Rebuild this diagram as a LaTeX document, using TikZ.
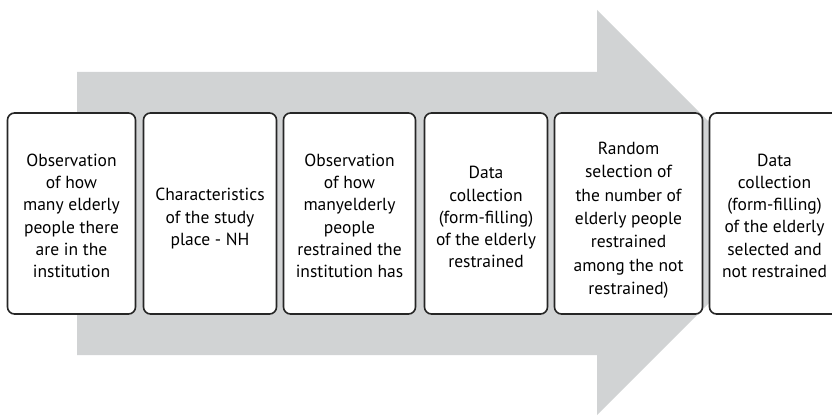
\documentclass[tikz,border=0pt]{standalone}
\usepackage{fontspec}
\setmainfont{PT Sans}
\usepackage{tikz}
\usetikzlibrary{positioning}

\definecolor{ArrowGray}{RGB}{209,211,212}

% step text: lowered block, reported with no height so the box stays put
\newcommand{\steptext}[3]{\raisebox{#1}[0pt][0pt]{\parbox[c]{#2}{\centering #3}}}

\tikzset{
  stepbox/.style={draw=black!85, line width=1.6pt, rounded corners=7pt, fill=white,
    minimum height=201pt, minimum width=#1, inner sep=0pt, outer sep=0pt,
    font=\fontsize{17.5}{22.2}\selectfont},
}

\begin{document}
\begin{tikzpicture}[x=1pt,y=1pt]
% Picture frame, same size as the figure
\useasboundingbox (0,0) rectangle (832,415);

% Big process arrow
\pgfmathsetmacro{\arrL}{77}    % body left
\pgfmathsetmacro{\arrT}{343}   % body top
\pgfmathsetmacro{\arrB}{60}    % body bottom
\pgfmathsetmacro{\headX}{597}  % head base
\pgfmathsetmacro{\headT}{405}  % head top
\pgfmathsetmacro{\headB}{0}    % head bottom
\pgfmathsetmacro{\tipX}{\headX + (\headT-\headB)/2} % tip, 45 deg sides
\fill[ArrowGray] (\arrL,\arrT) -- (\headX,\arrT) -- (\headX,\headT)
  -- (\tipX,{(\headT+\headB)/2}) -- (\headX,\headB) -- (\headX,\arrB)
  -- (\arrL,\arrB) -- cycle;

% Steps
\node[stepbox=128pt, anchor=north west] (obs) at (7.5,302)
  {\steptext{-6.6pt}{120pt}{Observation\\of how\\many elderly\\people there\\are in the\\institution}};
\node[stepbox=133pt, right=8pt of obs] (charac)
  {\steptext{-9.5pt}{125pt}{Characteristics\\of the study\\place - NH}};
\node[stepbox=132pt, right=7pt of charac] (obsres)
  {\steptext{-6.6pt}{124pt}{Observation\\of how\\manyelderly\\people\\restrained the\\institution has}};
\node[stepbox=123pt, right=9pt of obsres] (collect)
  {\steptext{-8pt}{115pt}{Data\\collection\\(form-filling)\\of the elderly\\restrained}};
\node[stepbox=148pt, right=7pt of collect, font=\fontsize{17.5}{23.3}\selectfont] (random)
  {\steptext{-11pt}{140pt}{Random\\selection of\\the number of\\elderly people\\restrained\\among the not\\restrained)}};
\node[stepbox=130pt, right=7pt of random] (collectnot)
  {\steptext{-6.6pt}{122pt}{Data\\collection\\(form-filling)\\of the elderly\\selected and\\not restrained}};
\end{tikzpicture}
\end{document}
